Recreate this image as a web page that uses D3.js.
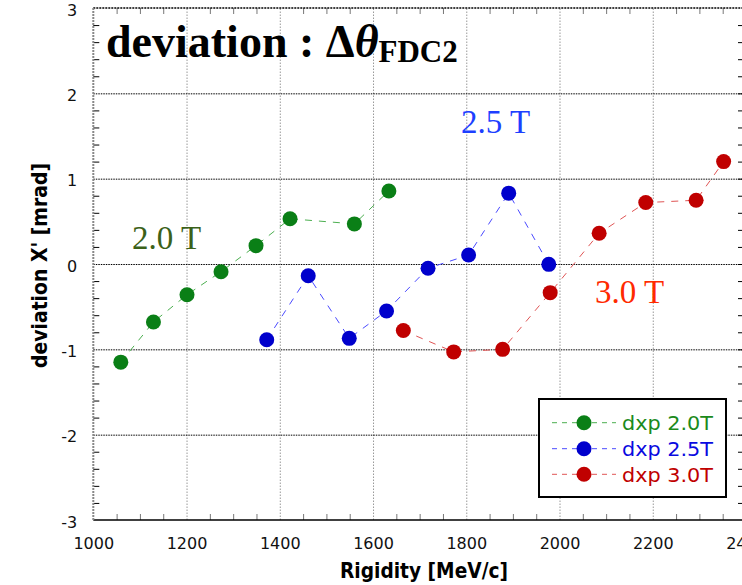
<!DOCTYPE html>
<html><head><meta charset="utf-8">
<script src="https://cdn.jsdelivr.net/npm/d3@7"></script>
<style>
html,body{margin:0;padding:0;background:#fff;overflow:hidden;}
svg{display:block;}
</style></head>
<body>
<svg id="chart" width="742" height="585"></svg>
<script>
// ---- data ----
const rigidity20 = [1059, 1129, 1201, 1274, 1349, 1422, 1560, 1634];
const dev20      = [-1.15, -0.68, -0.36, -0.09, 0.215, 0.53, 0.47, 0.856];
const rigidity25 = [1372, 1461, 1549, 1629, 1718, 1805, 1891, 1977];
const dev25      = [-0.887, -0.137, -0.871, -0.55, -0.05, 0.105, 0.83, -0.004];
const rigidity30 = [1665, 1773, 1878, 1980, 2085, 2185, 2293, 2352];
const dev30      = [-0.78, -1.03, -1.0, -0.336, 0.36, 0.72, 0.747, 1.2];
const seriesNames = ["dxp 2.0T", "dxp 2.5T", "dxp 3.0T"];
const xTicks = [1000, 1200, 1400, 1600, 1800, 2000, 2200, 2400];
const yTicks = [-3, -2, -1, 0, 1, 2, 3];
const annotations = ["2.0 T", "2.5 T", "3.0 T"];

// ---- layout ----
const svg = d3.select("#chart");
const L = 93.3, R = 746, T = 8, B = 520;
const x = d3.scaleLinear().domain([1000, 2400]).range([L, R]);
const y = d3.scaleLinear().domain([-3, 3]).range([B, T]);

const markerCol = ["#0a7f16", "#0000cc", "#c00000"];
const lineCol   = ["#4caf50", "#4a4aff", "#e05555"];
const textCol   = ["#1b8a1b", "#0a0ae0", "#c00000"];
const annCol    = ["#3b6119", "#1d3fff", "#ff2a00"];

const series = [
  rigidity20.map((r, i) => ({r, d: dev20[i]})),
  rigidity25.map((r, i) => ({r, d: dev25[i]})),
  rigidity30.map((r, i) => ({r, d: dev30[i]}))
];

const g = svg.append("g");

// vertical grid (gray dotted)
g.append("g").attr("transform", `translate(0,${B})`)
  .call(d3.axisBottom(x).tickValues(xTicks.filter(v => v > 1000 && v < 2400)).tickSize(-(B - T)).tickFormat(""))
  .call(s => s.select(".domain").remove())
  .call(s => s.selectAll("line").attr("stroke", "#999").attr("stroke-dasharray", "1.5,1.5"));

// horizontal grid (black dotted)
g.append("g").attr("transform", `translate(${L},0)`)
  .call(d3.axisLeft(y).tickValues(yTicks.filter(v => v > -3 && v < 3)).tickSize(-(R - L)).tickFormat(""))
  .call(s => s.select(".domain").remove())
  .call(s => s.selectAll("line").attr("stroke", "#000").attr("stroke-dasharray", "1.5,1"));

// minor ticks
const xMinor = d3.range(1050, 2400, 50).filter(v => v % 200 !== 0);
const yMinor = d3.range(-2.8, 3, 0.2).map(v => +v.toFixed(1)).filter(v => Math.abs(v - Math.round(v)) > 0.01);
g.append("g").attr("transform", `translate(0,${B})`)
  .call(d3.axisBottom(x).tickValues(xMinor).tickSize(-6).tickFormat(""))
  .call(s => s.select(".domain").remove())
  .call(s => s.selectAll("line").attr("stroke", "#777"));
g.append("g").attr("transform", `translate(0,${T})`)
  .call(d3.axisTop(x).tickValues(xMinor).tickSize(-6).tickFormat(""))
  .call(s => s.select(".domain").remove())
  .call(s => s.selectAll("line").attr("stroke", "#777"));
g.append("g").attr("transform", `translate(${L},0)`)
  .call(d3.axisLeft(y).tickValues(yMinor).tickSize(-6).tickFormat(""))
  .call(s => s.select(".domain").remove())
  .call(s => s.selectAll("line").attr("stroke", "#000"));
g.append("g").attr("transform", `translate(${R},0)`)
  .call(d3.axisRight(y).tickValues(yMinor.concat([-2,-1,0,1,2])).tickSize(-8).tickFormat(""))
  .call(s => s.select(".domain").remove())
  .call(s => s.selectAll("line").attr("stroke", "#000"));

// frame
g.append("line").attr("x1", L).attr("x2", R).attr("y1", T).attr("y2", T)
  .attr("stroke", "#000").attr("stroke-width", 1.5).attr("stroke-dasharray", "2,1");
g.append("line").attr("x1", L).attr("x2", R).attr("y1", B).attr("y2", B)
  .attr("stroke", "#000").attr("stroke-width", 1.5);
g.append("line").attr("x1", L).attr("x2", L).attr("y1", T).attr("y2", B)
  .attr("stroke", "#888").attr("stroke-width", 2).attr("stroke-dasharray", "2,1");
g.append("line").attr("x1", R - 1).attr("x2", R - 1).attr("y1", T).attr("y2", B)
  .attr("stroke", "#000").attr("stroke-width", 1.5);

// tick labels
const tickFont = "'DejaVu Sans', sans-serif";
const fmt = d => String(d);
g.append("g").attr("transform", `translate(0,${B})`)
  .call(d3.axisBottom(x).tickValues(xTicks).tickSize(0).tickPadding(0).tickFormat(fmt))
  .call(s => s.select(".domain").remove())
  .call(s => s.selectAll("text").attr("y", 29).attr("dy", 0)
    .attr("font-family", tickFont).attr("font-size", 16).attr("fill", "#111"));
g.append("g").attr("transform", `translate(${L},0)`)
  .call(d3.axisLeft(y).tickValues(yTicks).tickSize(0).tickPadding(0).tickFormat(fmt))
  .call(s => s.select(".domain").remove())
  .call(s => s.selectAll("text").attr("x", -16).attr("dy", "0.45em")
    .attr("font-family", tickFont).attr("font-size", 16).attr("fill", "#111"));

// axis titles
svg.append("text").attr("x", 424).attr("y", 578).attr("text-anchor", "middle")
  .attr("font-family", tickFont).attr("font-weight", "bold").attr("font-size", 21)
  .attr("textLength", 168).attr("lengthAdjust", "spacingAndGlyphs")
  .text("Rigidity [MeV/c]");
svg.append("text").attr("transform", "translate(47,265.5) rotate(-90)").attr("text-anchor", "middle")
  .attr("font-family", tickFont).attr("font-weight", "bold").attr("font-size", 22)
  .attr("textLength", 205).attr("lengthAdjust", "spacingAndGlyphs")
  .text("deviation X' [mrad]");

// series lines + markers
const line = d3.line().x(d => x(d.r)).y(d => y(d.d));
series.forEach((s, i) => {
  g.append("path").datum(s).attr("d", line).attr("fill", "none")
    .attr("stroke", lineCol[i]).attr("stroke-width", 1).attr("stroke-dasharray", "7,7");
});
series.forEach((s, i) => {
  g.selectAll(null).data(s).enter().append("circle")
    .attr("cx", d => x(d.r)).attr("cy", d => y(d.d)).attr("r", 7.5)
    .attr("fill", markerCol[i]);
});

// title
const title = svg.append("text").attr("x", 106).attr("y", 57)
  .attr("font-family", "'Liberation Serif', 'Times New Roman', serif")
  .attr("font-weight", "bold").attr("font-size", 46).attr("fill", "#000");
title.append("tspan").text("deviation : \u0394");
title.append("tspan").attr("font-style", "italic").text("\u03b8");
title.append("tspan").attr("font-size", 31).attr("dy", 5).text("FDC2");

// annotations
const annPos = [[132, 249], [461, 133], [595, 303]];
annotations.forEach((t, i) => {
  svg.append("text").attr("x", annPos[i][0]).attr("y", annPos[i][1])
    .attr("font-family", "'Liberation Serif', 'Times New Roman', serif")
    .attr("font-size", 33).attr("fill", annCol[i]).text(t);
});

// legend
const lg = svg.append("g");
lg.append("rect").attr("x", 539).attr("y", 399).attr("width", 187).attr("height", 98)
  .attr("fill", "#fff").attr("stroke", "#000").attr("stroke-width", 2);
const rowY = [422.7, 448.7, 474.3];
seriesNames.forEach((n, i) => {
  lg.append("line").attr("x1", 552).attr("x2", 616).attr("y1", rowY[i]).attr("y2", rowY[i])
    .attr("stroke", lineCol[i]).attr("stroke-width", 1).attr("stroke-dasharray", "5,5");
  lg.append("circle").attr("cx", 584).attr("cy", rowY[i]).attr("r", 7.5).attr("fill", markerCol[i]);
  lg.append("text").attr("x", 622).attr("y", rowY[i] + 7.5)
    .attr("font-family", tickFont).attr("font-size", 20).attr("fill", textCol[i])
    .attr("textLength", 91).attr("lengthAdjust", "spacingAndGlyphs").text(n);
});
</script>
</body></html>
